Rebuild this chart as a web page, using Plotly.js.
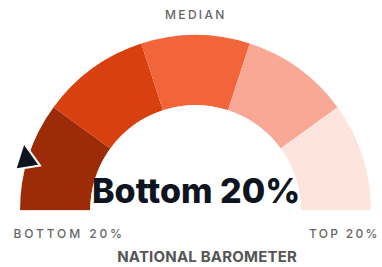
<!DOCTYPE html>
<html>
<head>
<meta charset="utf-8">
<script src="https://cdn.plot.ly/plotly-3.0.1.min.js"></script>
<style>
html,body{margin:0;padding:0;background:#fff;}
#chart{width:382px;height:267px;}
.annotation[data-index="0"] text,
.annotation[data-index="2"] text{letter-spacing:2.3px;}
.annotation[data-index="1"] text{letter-spacing:2.9px;}
.annotation[data-index="4"] text{letter-spacing:0.2px;}
</style>
</head>
<body>
<div id="chart"></div>
<script>
// Gauge bands (left to right), each an equal 20% slice of a half circle
var bandLabels = ['Bottom 20%', 'Lower middle', 'Median', 'Upper middle', 'Top 20%'];
var bandTheta = [18, 54, 90, 126, 162];   // degrees along the half circle
var bandWidth = [36, 36, 36, 36, 36];
var bandR = [1, 1, 1, 1, 1];
var bandColors = ['#9c2b08', '#d8410f', '#f26439', '#f8a894', '#fde4dc'];

// Pointer tip position (in the bottom 20% band, just outside the arc)
var pointerTheta = [21.5];
var pointerR = [1.13];

// Texts
var topLabel = 'MEDIAN';
var leftLabel = 'BOTTOM 20%';
var rightLabel = 'TOP 20%';
var valueLabel = 'Bottom 20%';
var footer = 'NATIONAL BAROMETER';

var W = 382, H = 267;
function px(x){return x / W;}
function py(y){return 1 - y / H;}

var data = [
  {
    type: 'barpolar',
    r: bandR,
    theta: bandTheta,
    width: bandWidth,
    text: bandLabels,
    marker: {color: bandColors, line: {width: 0}},
    hoverinfo: 'text'
  },
  {
    type: 'scatterpolar',
    r: pointerR,
    theta: pointerTheta,
    mode: 'markers',
    cliponaxis: false,
    marker: {symbol: 'arrow-up', size: 25, angle: -9, color: '#0e1420', line: {color: '#ffffff', width: 2}},
    hoverinfo: 'skip'
  }
];

var grayFont = {family: 'Inter, Liberation Sans, sans-serif', size: 12, color: '#666666', weight: 500};

var layout = {
  width: W, height: H,
  margin: {l: 0, r: 0, t: 0, b: 0},
  paper_bgcolor: '#ffffff',
  plot_bgcolor: '#ffffff',
  showlegend: false,
  polar: {
    domain: {x: [px(9.5), px(381.5)], y: [py(210.5), py(24.5)]},
    sector: [0, 180],
    hole: 0.5661,
    bgcolor: 'rgba(0,0,0,0)',
    radialaxis: {visible: false, range: [0, 1.15], showgrid: false},
    angularaxis: {visible: false, direction: 'clockwise', rotation: 180, showgrid: false}
  },
  annotations: [
    {text: topLabel, x: px(196), y: py(14), xref: 'paper', yref: 'paper', showarrow: false, xanchor: 'center', yanchor: 'middle', font: grayFont},
    {text: leftLabel, x: px(68.5), y: py(233.5), xref: 'paper', yref: 'paper', showarrow: false, xanchor: 'center', yanchor: 'middle', font: grayFont},
    {text: rightLabel, x: px(344), y: py(233.5), xref: 'paper', yref: 'paper', showarrow: false, xanchor: 'center', yanchor: 'middle', font: grayFont},
    {text: valueLabel, x: px(196), y: py(190), xref: 'paper', yref: 'paper', showarrow: false, xanchor: 'center', yanchor: 'middle',
     font: {family: 'Inter, Liberation Sans, sans-serif', size: 34, color: '#0e1420', weight: 800}},
    {text: footer, x: px(206.5), y: py(256.5), xref: 'paper', yref: 'paper', showarrow: false, xanchor: 'center', yanchor: 'middle',
     font: {family: 'Inter, Liberation Sans, sans-serif', size: 15, color: '#555555', weight: 700}}
  ]
};

Plotly.newPlot('chart', data, layout, {displayModeBar: false, staticPlot: true});
</script>
</body>
</html>
